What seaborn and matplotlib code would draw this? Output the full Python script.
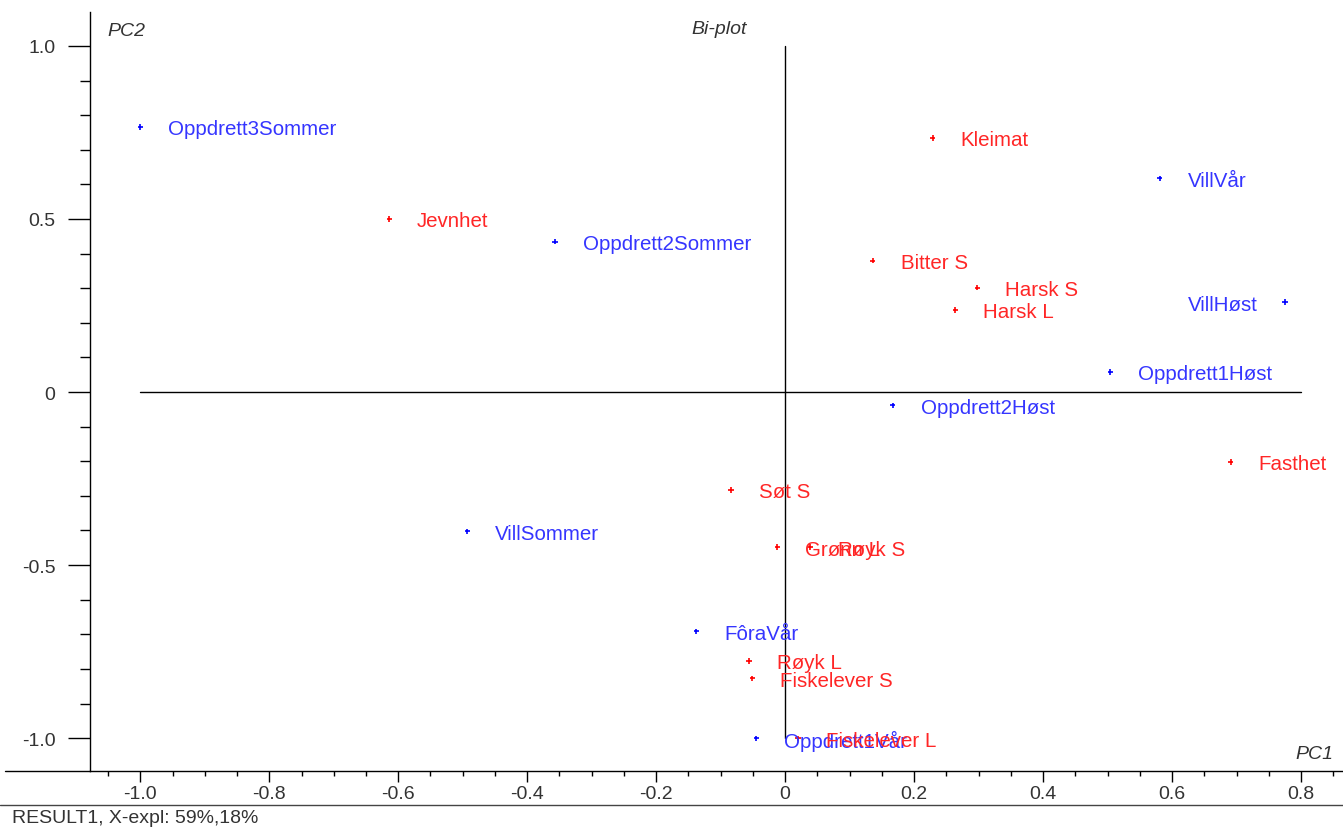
import pandas as pd
import numpy as np
import matplotlib
matplotlib.use("Agg")
import matplotlib.pyplot as plt
import seaborn as sns
from matplotlib.lines import Line2D
from matplotlib.ticker import MultipleLocator, FixedLocator

# Data: PCA bi-plot scores (samples) and loadings (sensory variables)
samples = ['Oppdrett3Sommer', 'Oppdrett2Sommer', 'VillVår', 'VillHøst', 'Oppdrett1Høst',
           'Oppdrett2Høst', 'VillSommer', 'FôraVår', 'Oppdrett1Vår']
sample_pc1 = [-1.000, -0.357, 0.581, 0.775, 0.504, 0.167, -0.493, -0.138, -0.045]
sample_pc2 = [0.766, 0.434, 0.618, 0.260, 0.058, -0.038, -0.402, -0.691, -1.000]

variables = ['Kleimat', 'Jevnhet', 'Bitter S', 'Harsk S', 'Harsk L', 'Fasthet', 'Søt S',
             'Grønn L', 'Røyk S', 'Røyk L', 'Fiskelever S', 'Fiskelever L']
var_pc1 = [0.229, -0.614, 0.136, 0.298, 0.264, 0.691, -0.084, -0.012, 0.039, -0.056, -0.051, 0.020]
var_pc2 = [0.734, 0.500, 0.379, 0.301, 0.237, -0.202, -0.283, -0.448, -0.448, -0.777, -0.827, -1.000]

x_ticks = [-1.0, -0.8, -0.6, -0.4, -0.2, 0, 0.2, 0.4, 0.6, 0.8]
x_ticklabels = ['-1.0', '-0.8', '-0.6', '-0.4', '-0.2', '0', '0.2', '0.4', '0.6', '0.8']
y_ticks = [-1.0, -0.5, 0, 0.5, 1.0]
y_ticklabels = ['-1.0', '-0.5', '0', '0.5', '1.0']

df = pd.concat([
    pd.DataFrame({'name': samples, 'PC1': sample_pc1, 'PC2': sample_pc2, 'type': 'sample'}),
    pd.DataFrame({'name': variables, 'PC1': var_pc1, 'PC2': var_pc2, 'type': 'variable'}),
], ignore_index=True)

sns.set_style('white')
plt.rcParams['font.family'] = ['Liberation Sans', 'DejaVu Sans']

BLUE = '#3535ff'
RED = '#ff2626'
GREY = '#333333'

fig = plt.figure(figsize=(13.43, 8.29), dpi=100)
ax = fig.add_axes([90 / 1343, 1 - 772 / 829, 1 - 90 / 1343, (772 - 13) / 829])

sns.scatterplot(data=df, x='PC1', y='PC2', hue='type',
                palette={'sample': '#0000ff', 'variable': '#ff0000'},
                marker='+', s=14, linewidth=1.2, legend=False, ax=ax, zorder=3)

# zero lines
ax.plot([-1.0, 0.8], [0, 0], color='black', lw=1.0, zorder=1)
ax.plot([0, 0], [-1.0, 1.0], color='black', lw=1.0, zorder=1)

# point labels (overlaps kept as in the original program output)
for _, r in df.iterrows():
    col = BLUE if r['type'] == 'sample' else RED
    if r['name'] == 'VillHøst':
        off, ha = (-27, -2), 'right'
    else:
        off, ha = (28, -2), 'left'
    ax.annotate(r['name'], (r['PC1'], r['PC2']), xytext=off, textcoords='offset pixels',
                ha=ha, va='center', color=col, fontsize=14.8, zorder=4)

ax.set_xlim(-1.078, 0.865)
ax.set_ylim(-1.095, 1.098)

ax.xaxis.set_major_locator(FixedLocator(x_ticks))
ax.set_xticklabels(x_ticklabels)
ax.xaxis.set_minor_locator(MultipleLocator(0.05))
ax.yaxis.set_major_locator(FixedLocator(y_ticks))
ax.set_yticklabels(y_ticklabels)
ax.yaxis.set_minor_locator(MultipleLocator(0.1))

ax.tick_params(axis='x', which='major', direction='out', length=8, width=1, color='black',
               pad=2, labelsize=14, labelcolor=GREY, bottom=True)
ax.tick_params(axis='x', which='minor', direction='out', length=3.6, width=1, color='black', bottom=True)
ax.tick_params(axis='y', which='major', direction='out', length=16, width=1, color='black',
               pad=9, labelsize=14, labelcolor=GREY, left=True)
ax.tick_params(axis='y', which='minor', direction='out', length=7, width=1, color='black', left=True)

ax.set_xlabel('')
ax.set_ylabel('')
for side in ['top', 'right']:
    ax.spines[side].set_visible(False)
for side in ['left', 'bottom']:
    ax.spines[side].set_color('black')
    ax.spines[side].set_linewidth(1.0)

# axis titles and headers
fig.text(107 / 1343, 1 - 32 / 829, 'PC2', fontsize=14, fontstyle='italic', color=GREY,
         ha='left', va='center')
fig.text(1333 / 1343, 1 - 755 / 829, 'PC1', fontsize=14, fontstyle='italic', color=GREY,
         ha='right', va='center')
fig.text(719 / 1343, 1 - 30 / 829, 'Bi-plot', fontsize=14, fontstyle='italic', color=GREY,
         ha='center', va='center')
fig.text(12 / 1343, 1 - 819 / 829, 'RESULT1, X-expl: 59%,18%', fontsize=14, color=GREY,
         ha='left', va='center')

# frame lines: x-axis runs the full width, separator above the status line
y_axis = 1 - 772 / 829
fig.add_artist(Line2D([5 / 1343, 90 / 1343], [y_axis, y_axis], color='black', lw=1.0))
y_sep = 1 - 806 / 829
fig.add_artist(Line2D([0, 1], [y_sep, y_sep], color='#444444', lw=1.0))

fig.savefig('out.png', dpi=100, facecolor='white')
